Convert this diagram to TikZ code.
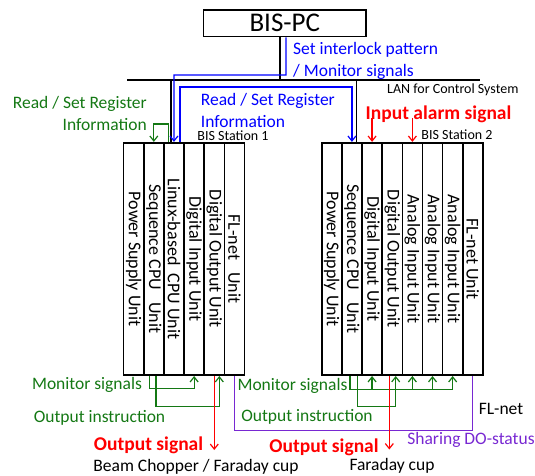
\documentclass[tikz,border=0pt]{standalone}
\usepackage{fontspec}
\setmainfont{Carlito}
\usetikzlibrary{arrows.meta}

\definecolor{sigblue}{RGB}{0,0,255}
\definecolor{siggreen}{RGB}{20,120,20}
\definecolor{sigred}{RGB}{255,0,0}
\definecolor{sigpurple}{RGB}{120,40,210}

\tikzset{
    unitbox/.style={draw, line width=1.6pt, minimum width=20.15pt, minimum height=232.5pt, inner sep=0pt},
    unittext/.style={rotate=-90, inner sep=0pt, font=\fontsize{18}{20}\selectfont},
    lbl/.style={inner sep=0pt, font=\fontsize{17.5}{22}\selectfont},
    small/.style={inner sep=0pt, font=\fontsize{14}{16}\selectfont},
    alarm/.style={inner sep=0pt, text=sigred, font=\fontsize{19.5}{22}\selectfont\bfseries},
    sig/.style={line width=1.2pt, -{Straight Barb[length=5pt,width=8pt]}},
    wire/.style={line width=1.3pt},
}

\begin{document}
\begin{tikzpicture}[x=1pt, y=-1pt]
    \useasboundingbox (0,0) rectangle (535,476);

    % The PC on top and the LAN line under it
    \node[draw, line width=1.6pt, minimum width=162.7pt, minimum height=26.7pt, inner sep=0pt,
          font=\fontsize{27}{30}\selectfont] (pc) at (284.7,23.3) {BIS-PC};

    \coordinate (lanW) at (127,80);
    \coordinate (lanE) at (480,80);
    \draw[line width=1.6pt] (lanW) -- (lanE);
    \node[small, anchor=west] (lantxt) at (387,90) {LAN for Control System};

    % Define column size
    \def\colw{20.15}
    \def\colmid{258.95}

    % Station 1 (six units)
    \foreach \txt [count=\i] in {Power Supply Unit, Sequence CPU\ \ \ Unit, Linux-based\ \ CPU Unit,
                                Digital Input Unit, Digital Output Unit, FL-net\ \ \ Unit} {
        \pgfmathsetmacro\xpos{123.6 + (\i - 0.5)*\colw}
        \node[unitbox] (s1c\i) at (\xpos, \colmid) {};
        \node[unittext] (s1t\i) at (s1c\i) {\txt};
    }
    \node[small] (st1) at (233,136) {BIS Station 1};

    % Station 2 (eight units)
    \foreach \txt [count=\i] in {Power Supply Unit, Sequence CPU\ \ \ Unit, Digital Input Unit,
                                Digital Output Unit, Analog Input Unit, Analog Input Unit,
                                Analog Input Unit, FL-net Unit} {
        \pgfmathsetmacro\xpos{321.7 + (\i - 0.5)*\colw}
        \node[unitbox] (s2c\i) at (\xpos, \colmid) {};
        \node[unittext] (s2t\i) at (s2c\i) {\txt};
    }
    \node[small] (st2) at (457,135) {BIS Station 2};

    % Drops from the LAN
    \draw[wire] (pc.south -| 280,0) -- (lanW -| 280,0);
    \draw[wire] (lanW -| 171,0) -- (s1c3.north -| 171,0);
    \draw[wire] (lanW -| 356.7,0) -- (s2c2.north -| 356.7,0);

    % Top signals
    \draw[sig, sigblue] (pc.south -| 286,0) |- (174,75) -- (s1c3.north);
    \draw[sig, sigblue] (s1c3.north -| 180,0) |- (s2c2.north |- 0,87) -- (s2c2.north);
    \draw[sig, siggreen] (s1c3.north -| 168.5,0) |- (s1c2.north |- 0,124) -- (s1c2.north);
    \foreach \c in {3,5}
        \draw[sig, sigred] (s2c\c.north |- 0,118) -- (s2c\c.north);

    \node[lbl, text=sigblue, align=left, anchor=west] (setlbl) at (293,60.6)
        {Set interlock pattern\\/ Monitor signals};
    \node[lbl, text=sigblue, align=left, anchor=west] (reglbl) at (200.7,110)
        {Read / Set Register\\Information};
    \node[lbl, text=siggreen, align=right, anchor=east] (reglbl2) at (147,113.5)
        {Read / Set Register\\Information};
    \node[alarm] (alarm) at (438.5,114) {Input alarm signal};

    % Bottom signals, station 1
    \draw[sig, siggreen] (s1c2.south -| 149.3,0) |- (s1c4.south |- 0,388.3) -- (s1c4.south);
    \draw[sig, siggreen] (s1c2.south -| 156,0) |- (219.3,406.7) -- (s1c5.south -| 219.3,0);
    \draw[sig, sigred] (s1c5.south) -- (s1c5.south |- 0,450);

    % FL-net between the stations
    \draw[wire, sigpurple] (s1c6.south) |- (s2c8.south |- 0,430.7) -- (s2c8.south);

    % Bottom signals, station 2
    \draw[sig, siggreen] (s2c2.south -| 350,0) |- (s2c7.south |- 0,389.3) -- (s2c7.south);
    \foreach \c in {3,5,6}
        \draw[sig, siggreen] (s2c\c.south |- 0,389.3) -- (s2c\c.south);
    \draw[sig, siggreen] (s2c2.south -| 357.3,0) |- (395.7,406.7) -- (s2c4.south -| 395.7,0);
    \draw[sig, sigred] (s2c4.south -| 389.3,0) -- (389.3,449.5);

    \node[lbl, text=siggreen] (mon1) at (87,385) {Monitor signals};
    \node[lbl, text=siggreen] (ins1) at (99.5,418) {Output instruction};
    \node[lbl, text=siggreen] (mon2) at (292.5,386) {Monitor signals};
    \node[lbl, text=siggreen] (ins2) at (307,417) {Output instruction};
    \node[lbl] (flnet) at (501,409) {FL-net};
    \node[lbl, text=sigpurple] (share) at (471,440) {Sharing DO-status};
    \node[alarm] (out1) at (148.5,445) {Output signal};
    \node[alarm] (out2) at (324,447) {Output signal};
    \node[lbl] (dest1) at (196,467) {Beam Chopper / Faraday cup};
    \node[lbl] (dest2) at (392,466) {Faraday cup};
\end{tikzpicture}
\end{document}
